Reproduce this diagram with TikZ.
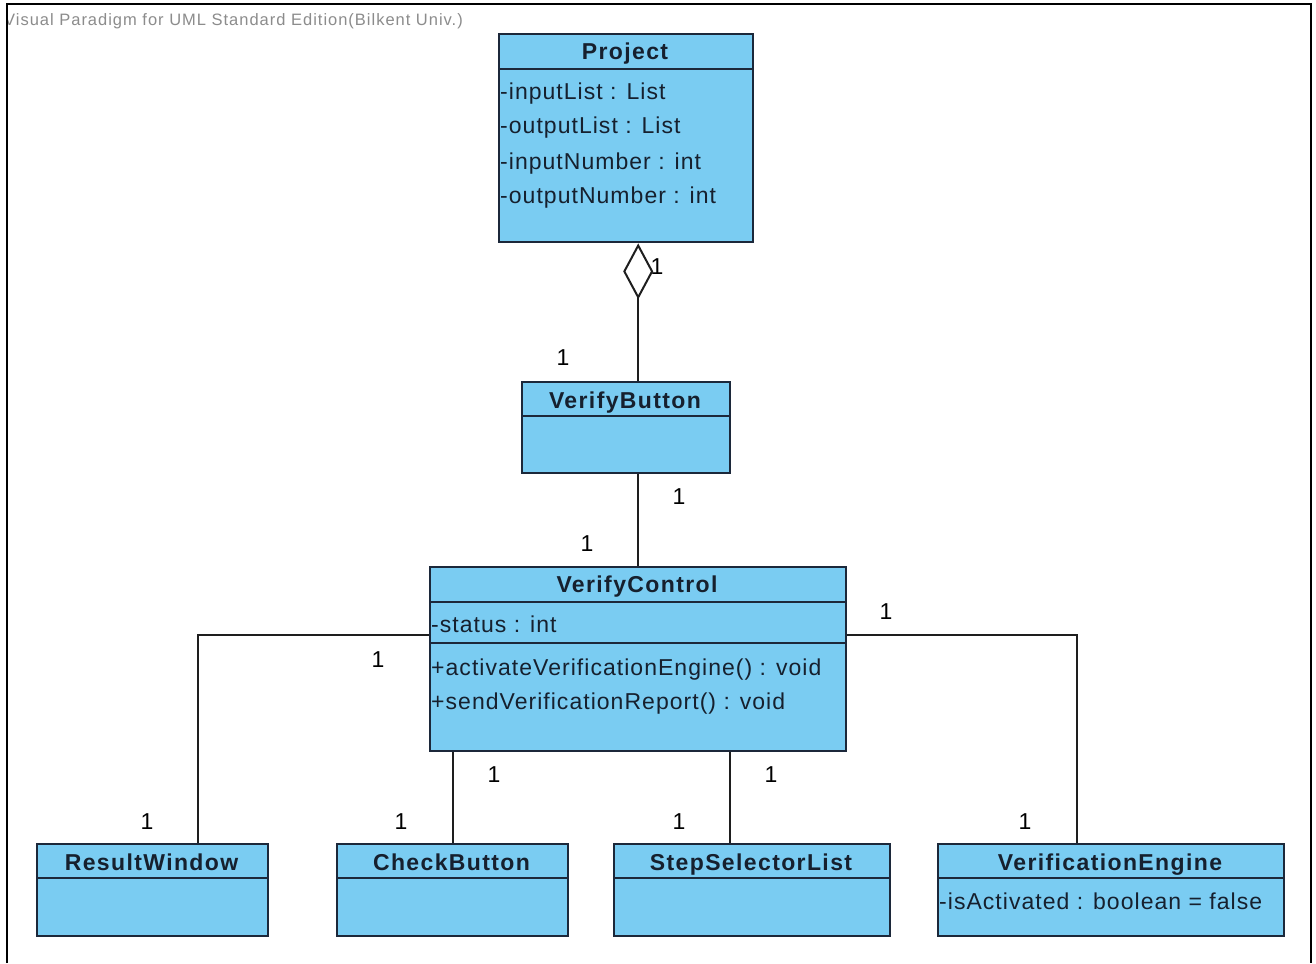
\documentclass[tikz,border=0pt]{standalone}
\usepackage{fontspec}
\setmainfont{Liberation Sans}
\newfontfamily\umlfont[LetterSpace=4.5]{Liberation Sans}
\newfontfamily\umlbold[LetterSpace=6,BoldFont={* Bold}]{Liberation Sans}
\newfontfamily\stampfont[LetterSpace=6]{Liberation Sans}
\usetikzlibrary{arrows.meta}
\definecolor{classfill}{RGB}{122,204,242}
\definecolor{classedge}{RGB}{28,40,58}
\definecolor{wire}{RGB}{30,30,30}
\definecolor{stamp}{RGB}{140,140,140}
\begin{document}
\begin{tikzpicture}[x=1pt,y=-1pt,
  classbox/.style={draw=classedge,fill=classfill,line width=2.4pt,anchor=north west,inner sep=0pt,rectangle},
  divider/.style={draw=classedge,line width=2.2pt},
  title/.style={anchor=base,inner sep=0pt,font=\umlbold\fontsize{23}{28}\selectfont\bfseries,text=classedge!80!black},
  member/.style={anchor=base west,inner sep=0pt,font=\umlfont\fontsize{23}{28}\selectfont,text=classedge!80!black},
  mult/.style={anchor=base,inner sep=0pt,font=\umlfont\fontsize{23}{28}\selectfont,text=black},
  assoc/.style={draw=wire,line width=2pt},
]
\useasboundingbox (0,0) rectangle (1316,963);
\fill[white] (0,0) rectangle (1316,963);

% editor stamp, clipped by the frame
\begin{scope}
  \clip (8,5) rectangle (1310,963);
  \node[anchor=base west,inner sep=0pt,text=stamp,font=\stampfont\fontsize{16.5}{19}\selectfont] (stamp) at (4,26) {Visual Paradigm for UML Standard Edition(Bilkent Univ.)};
\end{scope}
% frame
\draw[line width=2pt,black] (7,963) -- (7,4) -- (1311,4) -- (1311,963);

% ---- class boxes ----
\node[classbox,minimum width=254pt,minimum height=208pt] (project) at (498,33) {};
\draw[divider] (498,69) -- (752,69);
\node[title] (projectT) at (625,60) {Project};
\node[member] (p1) at (500,100) {-inputList : List};
\node[member] (p2) at (500,134) {-outputList : List};
\node[member] (p3) at (500,169) {-inputNumber : int};
\node[member] (p4) at (500,203) {-outputNumber : int};

\node[classbox,minimum width=208pt,minimum height=91pt] (vb) at (521,381) {};
\draw[divider] (521,416) -- (729,416);
\node[title] (vbT) at (625,408) {VerifyButton};

\node[classbox,minimum width=416pt,minimum height=184pt] (vc) at (429,566) {};
\draw[divider] (429,602) -- (845,602);
\draw[divider] (429,643) -- (845,643);
\node[title] (vcT) at (637,592) {VerifyControl};
\node[member] (vc1) at (431,632) {-status : int};
\node[member] (vc2) at (431,675) {+activateVerificationEngine() : void};
\node[member] (vc3) at (431,709) {+sendVerificationReport() : void};

\node[classbox,minimum width=231pt,minimum height=92pt] (rw) at (36,843) {};
\draw[divider] (36,878) -- (267,878);
\node[title] (rwT) at (151.5,870) {ResultWindow};

\node[classbox,minimum width=231pt,minimum height=92pt] (cb) at (336,843) {};
\draw[divider] (336,878) -- (567,878);
\node[title] (cbT) at (451.5,870) {CheckButton};

\node[classbox,minimum width=276pt,minimum height=92pt] (ssl) at (613,843) {};
\draw[divider] (613,878) -- (889,878);
\node[title] (sslT) at (751,870) {StepSelectorList};

\node[classbox,minimum width=346pt,minimum height=92pt] (ve) at (937,843) {};
\draw[divider] (937,878) -- (1283,878);
\node[title] (veT) at (1110,870) {VerificationEngine};
\node[member] (ve1) at (939,909) {-isActivated : boolean = false};

% ---- connectors ----
\draw[assoc,-{Diamond[open,length=56pt,width=30pt,line width=2pt]}]
  ([xshift=12pt]vb.north) -- ([xshift=12pt]project.south);
\draw[assoc] ([xshift=12pt]vb.south) -- (vc.north);
\draw[assoc] ([yshift=24pt]vc.west) -| ([xshift=45.5pt]rw.north);
\draw[assoc] ([yshift=24pt]vc.east) -| ([xshift=-34pt]ve.north);
\coordinate (cbTop) at ([xshift=0.5pt]cb.north);
\draw[assoc] (cbTop) -- (cbTop |- vc.south);
\coordinate (sslTop) at ([xshift=-22pt]ssl.north);
\draw[assoc] (sslTop) -- (sslTop |- vc.south);

% ---- multiplicities ----
\node[mult] (m1) at (657,274) {1};
\node[mult] (m2) at (563,365) {1};
\node[mult] (m3) at (679,504) {1};
\node[mult] (m4) at (587,551) {1};
\node[mult] (m5) at (378,667) {1};
\node[mult] (m6) at (147,829) {1};
\node[mult] (m7) at (886,619) {1};
\node[mult] (m8) at (1025,829) {1};
\node[mult] (m9) at (494,782) {1};
\node[mult] (m10) at (401,829) {1};
\node[mult] (m11) at (771,782) {1};
\node[mult] (m12) at (679,829) {1};
\end{tikzpicture}
\end{document}
